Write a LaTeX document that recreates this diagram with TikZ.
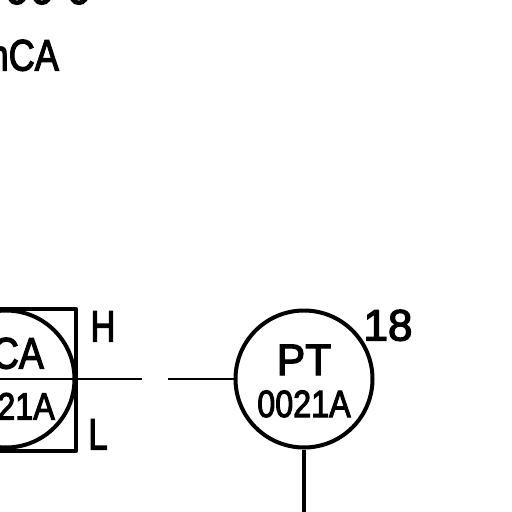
\documentclass[tikz,border=0pt]{standalone}
\usepackage{fontspec}
\setmainfont{Liberation Sans}
\newfontfamily\cadfont[FakeBold=3]{Liberation Sans}
\tikzset{
  px/.style={x=1pt,y=-1pt},
  instr/.style={draw=black,line width=4pt,circle,minimum size=137pt,inner sep=0pt},
  sig/.style={line width=2.4pt,draw=black},
  proc/.style={line width=4.4pt,draw=black},
  boxline/.style={line width=4.4pt,draw=black,line join=round},
  big/.style={inner sep=0pt,anchor=base,font=\cadfont\fontsize{44}{44}\selectfont},
  small/.style={inner sep=0pt,anchor=base,font=\cadfont\fontsize{38}{38}\selectfont,xscale=0.85},
}
\begin{document}
\begin{tikzpicture}[px]
\useasboundingbox (0,0) rectangle (512,512);
\clip (0,0) rectangle (512,512);
% top clipped label
\node[big,xscale=0.82,anchor=base east] (toptag) at (59,70.5) {mCA};
\node[big,xscale=0.95] (topa) at (17,4) {0};
\node[big,xscale=0.95] (topb) at (42,4) {0};
\node[big,xscale=0.95] (topc) at (79,4) {0};
% left instrument
\node[instr] (fca) at (6,379) {};
\draw[boxline] (-10,309) -- (76,309) -- (76,451) -- (-10,451);
\coordinate (leftend) at (142,379);
\coordinate (leftstart) at (-10,379);
\draw[sig] (leftstart) -- (leftend);
\node[big,anchor=base east,xscale=0.85] (fcat) at (44,368.5) {CA};
\node[small,anchor=base east] (fcan) at (55,419.5) {0021A};
\node[big,xscale=0.78] (hl) at (103,341.5) {H};
\node[big,xscale=0.8] (ll) at (98,449.5) {L};
% right instrument
\node[instr] (pt) at (304,379) {};
\coordinate (rightstart) at (168,379);
\coordinate (bottom) at (304,514);
\draw[sig] (rightstart) -- (pt.west);
\draw[proc] (pt.south) -- (bottom);
\node[big,xscale=0.97] (ptt) at (304,375) {PT};
\node[small] (ptn) at (304,417) {0021A};
\node[big] (num) at (388,340.5) {18};
\end{tikzpicture}
\end{document}
